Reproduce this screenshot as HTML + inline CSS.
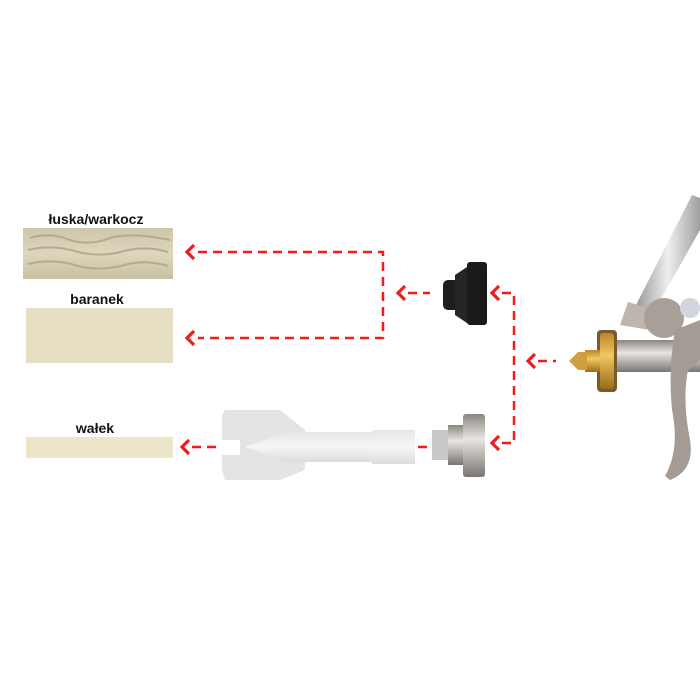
<!DOCTYPE html>
<html><head><meta charset="utf-8"><style>
html,body{margin:0;padding:0;background:#fff;}
svg{display:block}
text{font-family:"Liberation Sans",sans-serif;font-weight:bold;fill:#111;}
</style></head><body>
<svg width="700" height="700" viewBox="0 0 700 700" xmlns="http://www.w3.org/2000/svg">
<defs>
<linearGradient id="tex1" x1="0" y1="0" x2="0" y2="1"><stop offset="0" stop-color="#cfc6aa"/><stop offset="0.5" stop-color="#ddd6bd"/><stop offset="1" stop-color="#c9c0a3"/></linearGradient>
<linearGradient id="metal" x1="0" y1="0" x2="0" y2="1"><stop offset="0" stop-color="#8a8580"/><stop offset="0.4" stop-color="#e8e6e2"/><stop offset="1" stop-color="#7a7570"/></linearGradient>
<linearGradient id="tube" x1="0" y1="0" x2="1" y2="0"><stop offset="0" stop-color="#9a9a9a"/><stop offset="0.5" stop-color="#eeeeee"/><stop offset="1" stop-color="#a0a0a0"/></linearGradient>
<linearGradient id="brass" x1="0" y1="0" x2="0" y2="1"><stop offset="0" stop-color="#b8862a"/><stop offset="0.4" stop-color="#f0c860"/><stop offset="1" stop-color="#9a6a1a"/></linearGradient>
<linearGradient id="white" x1="0" y1="0" x2="0" y2="1"><stop offset="0" stop-color="#e6e6e6"/><stop offset="0.5" stop-color="#f6f6f6"/><stop offset="1" stop-color="#dcdcdc"/></linearGradient>
</defs>

<text x="96" y="224" font-size="14" text-anchor="middle">łuska/warkocz</text>
<text x="97" y="304" font-size="14" text-anchor="middle">baranek</text>
<text x="95" y="433" font-size="14" text-anchor="middle">wałek</text>

<rect x="23" y="228" width="150" height="51" fill="url(#tex1)"/>
<path d="M30 238 q20 -6 40 2 q20 6 40 -2 q20 -6 60 2 M28 250 q25 -6 50 2 q25 6 50 -2 q20 -4 40 2 M28 264 q25 -6 50 2 q25 6 50 -2 q20 -4 40 2" stroke="#b5ab8c" stroke-width="2" fill="none"/>
<rect x="26" y="308" width="147" height="55" fill="#e6dec2"/>
<rect x="26" y="437" width="147" height="21" fill="#ede5c8"/>

<g stroke="#ee1c1c" stroke-width="2.5" fill="none" stroke-dasharray="9,6">
<path d="M198 252 H383 V338 H198"/>
<path d="M408 293 H430"/>
<path d="M502 293 H514 V443 H502"/>
<path d="M538 361 H556"/>
<path d="M403 447 H428"/>
<path d="M192 447 H218"/>
</g>
<g stroke="#ee1c1c" stroke-width="3.2" fill="none">
<path d="M194 245 L187 252 L194 259"/>
<path d="M194 331 L187 338 L194 345"/>
<path d="M405 286 L398 293 L405 300"/>
<path d="M499 286 L492 293 L499 300"/>
<path d="M499 436 L492 443 L499 450"/>
<path d="M535 354 L528 361 L535 368"/>
<path d="M400 440 L393 447 L400 454"/>
<path d="M189 440 L182 447 L189 454"/>
</g>

<rect x="443" y="280" width="20" height="30" rx="5" fill="#1e1e1e"/>
<path d="M455 275 L470 265 H485 V325 H470 L455 315 Z" fill="#252525"/>
<rect x="467" y="262" width="20" height="63" rx="3" fill="#1a1a1a"/>

<rect x="432" y="430" width="18" height="30" fill="#c8c8c8"/>
<rect x="448" y="425" width="18" height="40" fill="url(#metal)"/>
<rect x="463" y="414" width="22" height="63" rx="3" fill="url(#metal)"/>

<path d="M225 410 H280 L305 430 V470 L280 480 H225 L222 470 V455 H240 V440 H222 V415 Z" fill="#e4e4e4"/>
<path d="M245 447 L285 432 H395 V462 H285 Z" fill="url(#white)"/>
<rect x="372" y="430" width="43" height="34" fill="url(#white)"/>

<path d="M636 305 L692 195 L700 198 L700 230 L652 315 Z" fill="url(#tube)"/>
<path d="M628 302 L655 310 L650 330 L620 325 Z" fill="#bdb6ac"/>
<path d="M615 340 H700 V372 H615 Z" fill="url(#metal)"/>
<circle cx="664" cy="318" r="20" fill="#a8a098"/>
<circle cx="690" cy="308" r="10" fill="#cfd6de"/>
<path d="M675 330 L700 320 V360 L688 370 Q682 400 690 440 Q695 470 670 480 L665 476 Q680 450 672 410 Q668 370 675 330 Z" fill="#a49c94"/>
<rect x="597" y="330" width="20" height="62" rx="4" fill="#7a5a2a"/>
<rect x="600" y="333" width="14" height="56" rx="3" fill="url(#brass)"/>
<rect x="585" y="350" width="15" height="22" fill="url(#brass)"/>
<path d="M569 361 L578 352 H587 V370 H578 Z" fill="#d0a040"/>
</svg>
</body></html>
